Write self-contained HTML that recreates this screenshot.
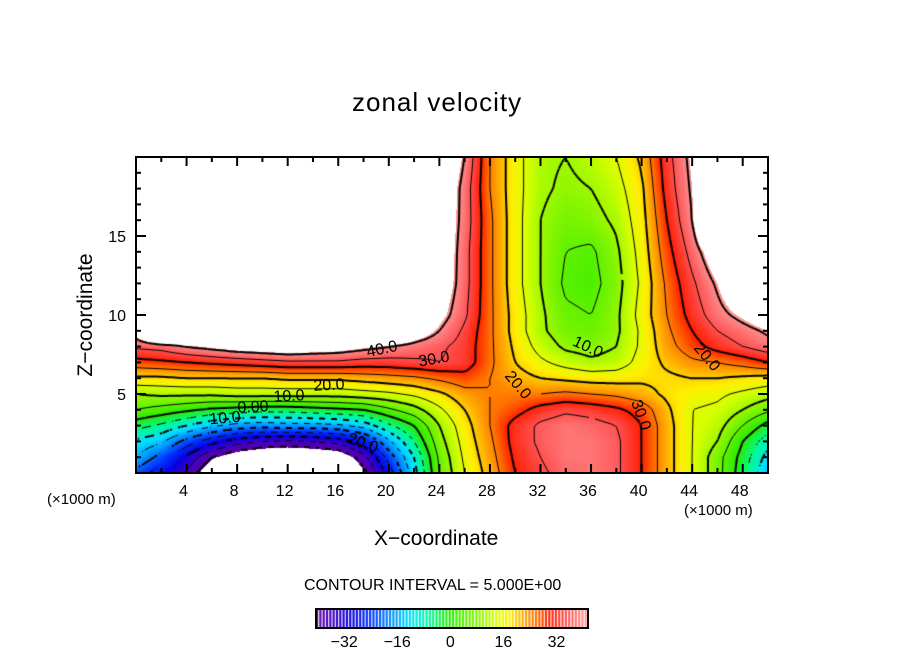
<!DOCTYPE html>
<html><head><meta charset="utf-8">
<style>
body{margin:0;background:#fff;}
#wrap{position:relative;width:904px;height:654px;overflow:hidden;background:#fff;font-family:"Liberation Sans","DejaVu Sans",sans-serif;}
.t{position:absolute;white-space:nowrap;color:#000;}
</style></head>
<body>
<div id="wrap">
<div class="t" style="left:352px;top:87px;font-size:26px;letter-spacing:1px;">zonal velocity</div>
<canvas id="cv" width="904" height="654" style="position:absolute;left:0;top:0;"></canvas>
<svg id="sv" width="904" height="654" style="position:absolute;left:0;top:0;"></svg>
<div class="t" style="left:-4px;top:303px;font-size:21px;transform:rotate(-90deg);width:180px;text-align:center;">Z−coordinate</div>
<div class="t" style="left:374px;top:527px;font-size:21px;">X−coordinate</div>
<div class="t" style="left:47px;top:491px;font-size:15px;">(×1000 m)</div>
<div class="t" style="left:684px;top:502px;font-size:15px;">(×1000 m)</div>
<div class="t" style="left:304px;top:577px;font-size:16px;">CONTOUR INTERVAL = 5.000E+00</div>
</div>
<script>
const xs=[0,2,4,6,8,10,12,14,16,18,20,22,24,26,28,30,32,34,36,38,40,42,44,46,48,50];
const zs=[0,1,2,3,4,5,6,7,8,9,10,12,14,16,18,20];
const W=60;
const row0=[-22,-28,-36,-46,-52,-56,-58,-58,-54,-42,-28,-12,5,15,22,30,34,37,38,36,30,22,15,7,-3,-15];
const row1=[-15,-22,-31,-40,-45,-48,-49,-48,-46,-37,-23,-10,6,16,23,31,35,38,38,36,30,22,15,7,-2,-12];
const row2=[-11,-14,-22,-28,-33,-35,-36,-35,-33,-27,-16,-5,8,17,24,32,36,38,38,36,30,22,15,10,0,-8];
const row3=[-3,-6,-10,-14,-17,-18,-17,-17,-16,-13,-6,0,10,18,25,32,36,38,37,35,30,22,15,12,5,-2];
const row4=[5,3,1,-1,-2,-3,-3,-2,-1,0,4,8,14,20,25,28,32,34,33,31,28,21,15,14,10,6];
const row5=[10,11,11,11,12,12,12,12,12,13,14,16,19,23,25,25,25,26,25,24,22,19,17,16,14,12];
const row6=[19,19,20,20,20,20,21,21,21,22,23,24,26,28,25,22,20,19,18,18,19,19,20,20,19,18];
const row7=[28,29,30,31,32,33,34,34,34,33,33,34,35,33,26,20,16,13,11,12,17,21,24,25,27,30];
const row8=[36,37,40,42,44,45,46,45,44,42,40,38,36,33,26,19,13,9,8,10,16,23,28,32,35,38];
const row9=[44,W,W,W,W,W,W,W,W,W,55,46,40,34,26,18,11,7,6,9,16,24,30,35,38,41];
const row10=[W,W,W,W,W,W,W,W,W,W,W,55,43,36,26,18,11,6,5,9,17,25,32,38,42,46];
const row12=[W,W,W,W,W,W,W,W,W,W,W,W,46,37,26,17,10,4,3,8,16,26,34,41,50,W];
const row14=[W,W,W,W,W,W,W,W,W,W,W,W,47,37,26,17,10,5,4,9,17,28,37,46,W,W];
const row16=[W,W,W,W,W,W,W,W,W,W,W,W,47,38,26,17,10,7,8,11,18,30,40,W,W,W];
const row18=[W,W,W,W,W,W,W,W,W,W,W,W,48,38,25,17,11,9,10,13,19,32,41,W,W,W];
const row20=[W,W,W,W,W,W,W,W,W,W,W,W,50,40,25,17,11,10,12,15,21,33,42,W,W,W];
const grid=[row0,row1,row2,row3,row4,row5,row6,row7,row8,row9,row10,row12,row14,row16,row18,row20];
const xTicks=[4,8,12,16,20,24,28,32,36,40,44,48];
const yTicks=[5,10,15];
const cbTicks=[-32,-16,0,16,32];
const cbMin=-40, cbMax=41;

const PL=136,PR=768,PT=157,PB=473;
const X=v=>PL+(v-0)/(50-0)*(PR-PL);
const Y=v=>PB-(v-0)/(20-0)*(PB-PT);
const CB0=316,CB1=588;
const CX=v=>CB0+(v-cbMin+0.5)/(cbMax-cbMin+1)*(CB1-CB0);

function idx(arr,v){let i=0;while(i<arr.length-2&&v>arr[i+1])i++;return i;}
function val(x,z){const i=idx(xs,x),j=idx(zs,z);
 const tx=Math.max(0,Math.min(1,(x-xs[i])/(xs[i+1]-xs[i]))),tz=Math.max(0,Math.min(1,(z-zs[j])/(zs[j+1]-zs[j])));
 const a=grid[j][i],b=grid[j][i+1],c=grid[j+1][i],d=grid[j+1][i+1];
 return a*(1-tx)*(1-tz)+b*tx*(1-tz)+c*(1-tx)*tz+d*tx*tz;}
const stops=[[-42,[100,0,150]],[-36,[70,0,190]],[-30,[10,0,225]],[-24,[0,50,255]],[-18,[0,140,255]],[-12,[0,225,255]],[-6,[0,250,150]],[0,[40,235,0]],[8,[130,245,0]],[14,[215,255,0]],[18,[255,240,0]],[22,[255,175,0]],[26,[255,110,0]],[30,[255,30,0]],[35,[255,80,80]],[42,[255,165,165]]];
function col(v){if(v<=stops[0][0])return stops[0][1];
 for(let k=0;k<stops.length-1;k++){if(v<=stops[k+1][0]){const t=(v-stops[k][0])/(stops[k+1][0]-stops[k][0]);return stops[k][1].map((c,m)=>Math.round(c+(stops[k+1][1][m]-c)*t));}}
 return stops[stops.length-1][1];}

const cv=document.getElementById('cv');const ctx=cv.getContext('2d');
const img=ctx.createImageData(PR-PL,PB-PT);
for(let py=0;py<PB-PT;py++)for(let px=0;px<PR-PL;px++){
 const x=(px+0.5)/(PR-PL)*50,z=(PB-PT-py-0.5)/(PB-PT)*20;const v=val(x,z);
 let c=[255,255,255];if(v>=-41&&v<=41)c=col(v);
 const o=(py*(PR-PL)+px)*4;img.data[o]=c[0];img.data[o+1]=c[1];img.data[o+2]=c[2];img.data[o+3]=255;}
ctx.putImageData(img,PL,PT);
const S=3;const nx=Math.ceil((PR-PL)/S),nz=Math.ceil((PB-PT)/S);
const F=[];for(let j=0;j<=nz;j++){F[j]=[];for(let i=0;i<=nx;i++){const px=Math.min(PR-PL,i*S),py=Math.min(PB-PT,j*S);F[j][i]=val(px/(PR-PL)*50,(PB-PT-py)/(PB-PT)*20);}}
ctx.save();ctx.beginPath();ctx.rect(PL,PT,PR-PL,PB-PT);ctx.clip();
for(let L=-40;L<=40;L+=5){
 ctx.lineWidth=(L%10===0)?2:1;ctx.strokeStyle='#000';
 for(let j=0;j<nz;j++)for(let i=0;i<nx;i++){
  const p=[[i,j,F[j][i]],[i+1,j,F[j][i+1]],[i+1,j+1,F[j+1][i+1]],[i,j+1,F[j+1][i]]];
  const pts=[];for(let k=0;k<4;k++){const a=p[k],b=p[(k+1)%4];if((a[2]-L)*(b[2]-L)<0){const t=(L-a[2])/(b[2]-a[2]);pts.push([PL+(a[0]+(b[0]-a[0])*t)*S,PT+(a[1]+(b[1]-a[1])*t)*S]);}}
  if(pts.length>=2){if(L<0&&((i+j)%4)>1)continue;ctx.beginPath();ctx.moveTo(pts[0][0],pts[0][1]);ctx.lineTo(pts[1][0],pts[1][1]);if(pts.length===4){ctx.moveTo(pts[2][0],pts[2][1]);ctx.lineTo(pts[3][0],pts[3][1]);}ctx.stroke();}
 }}
ctx.restore();
for(let v=cbMin;v<=cbMax;v++){const c=col(v);ctx.fillStyle=`rgb(${c[0]},${c[1]},${c[2]})`;const w=(CB1-CB0)/(cbMax-cbMin+1);ctx.fillRect(CB0+(v-cbMin)*w,609,w*0.65,19);}

const NS='http://www.w3.org/2000/svg';const sv=document.getElementById('sv');
function add(tag,attrs,name,text){const e=document.createElementNS(NS,tag);for(const k in attrs)e.setAttribute(k,attrs[k]);
 
 
 if(text!==undefined)e.textContent=text;sv.appendChild(e);return e;}
add('rect',{x:PL,y:PT,width:PR-PL,height:PB-PT,fill:'none',stroke:'#000','stroke-width':2},'plot-frame');
for(let v=2;v<50;v+=2){const big=v%4===0;const L=big?9:5;
 add('line',{x1:X(v),x2:X(v),y1:PB,y2:PB-L,stroke:'#000','stroke-width':2},'x-tick');
 add('line',{x1:X(v),x2:X(v),y1:PT,y2:PT+L,stroke:'#000','stroke-width':2},'x-tick-top');}
xTicks.forEach(v=>add('text',{x:X(v)-3,y:496,'font-size':16,'text-anchor':'middle','font-family':'Liberation Sans'},'x-tick-label',String(v)));
for(let v=1;v<20;v++){const big=v%5===0;const L=big?10:5;
 add('line',{x1:PL,x2:PL+L,y1:Y(v),y2:Y(v),stroke:'#000','stroke-width':2},'y-tick');
 add('line',{x1:PR,x2:PR-L,y1:Y(v),y2:Y(v),stroke:'#000','stroke-width':2},'y-tick-right');}
yTicks.forEach(v=>add('text',{x:126,y:Y(v)+6,'font-size':16,'text-anchor':'end','font-family':'Liberation Sans'},'y-tick-label',String(v)));
add('rect',{x:CB0,y:609,width:CB1-CB0,height:19,fill:'none',stroke:'#000','stroke-width':2},'colorbar-frame');
cbTicks.forEach(v=>add('text',{x:CX(v),y:647,'font-size':16,'text-anchor':'middle','font-family':'Liberation Sans'},'colorbar-tick-label',(v<0?'−':'')+Math.abs(v)));
const labs=[['40.0',382,354,-12],['30.0',434,364,-10],['20.0',329,390,-3],['10.0',289,401,-3],['0.00',253,412,-3],['10.0',225,423,-5],['20.0',363,448,20],['10.0',588,352,25],['20.0',518,390,50],['20.0',707,362,50],['30.0',641,420,70]];
labs.forEach(l=>add('text',{x:l[1],y:l[2],'font-size':16,'text-anchor':'middle','font-family':'Liberation Sans',transform:`rotate(${l[3]} ${l[1]} ${l[2]-5})`},'contour-label',l[0]));
</script>
</body></html>
